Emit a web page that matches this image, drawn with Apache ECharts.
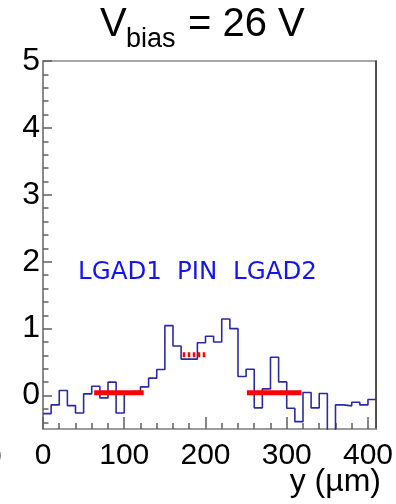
<!DOCTYPE html>
<html><head><meta charset="utf-8">
<script src="https://cdn.jsdelivr.net/npm/echarts@6/dist/echarts.min.js"></script>
<style>html,body{margin:0;padding:0;background:#fff;overflow:hidden}#c{width:396px;height:504px}</style>
</head><body><div id="c"></div>
<script>
// ---- data ----
const binLowEdges = [0,10,20,30,40,50,60,70,80,90,100,110,120,130,140,150,160,170,180,190,200,210,220,230,240,250,260,270,280,290,300,310,320,330,340,350,360,370,380,390,400];
const lastBinHighEdge = 410;
const binValues = [-0.27,-0.14,0.075,-0.15,-0.26,0.025,0.14,-0.035,0.2,-0.26,0.03,0.06,0.13,0.26,0.39,1.045,0.74,0.545,0.545,0.79,0.886,0.80,1.144,1.0,0.284,0.393,-0.184,0.1,0.572,0.204,-0.19,-0.39,0.045,-0.184,0.03,-0.7,-0.14,-0.154,-0.1,-0.14,-0.06];
const lgad1Range = [63,124], lgad1Mean = 0.04;
const pinRange = [172,201], pinMean = 0.61;
const lgad2Range = [251,318], lgad2Mean = 0.04;
const xMajorTicks = [0,100,200,300,400];
const xMinorTicks = [20,40,60,80,120,140,160,180,220,240,260,280,320,340,360,380];
const yMajorTicks = [0,1,2,3,4,5];
const yMinorTicks = [-0.4,-0.2,0.2,0.4,0.6,0.8,1.2,1.4,1.6,1.8,2.2,2.4,2.6,2.8,3.2,3.4,3.6,3.8,4.2,4.4,4.6,4.8];
const xRange = [0, 410], yRange = [-0.5, 5];
const titleMain = 'V', titleSub = 'bias', titleRest = '= 26 V';
const xTitle = 'y (µm)';
const regionLabels = ['LGAD1', 'PIN', 'LGAD2'];

// ---- chart ----
const chart = echarts.init(document.getElementById('c'), null, {renderer: 'canvas'});
const FONT = '"Liberation Sans", Arial, Helvetica, sans-serif';
const LFONT = '24.5px "DejaVu Sans", sans-serif';
const axisGray = '#808080';

const histData = binLowEdges.map((x, i) => [x, binValues[i]]);
histData.push([lastBinHighEdge, binValues[binValues.length - 1]]);

const bar = (r, m) => [[r[0], m], [r[1], m]];

const option = {
  animation: false,
  grid: {left: 43, right: 14, top: 61, bottom: 75, show: true, borderColor: '#8a8a8a', borderWidth: 1.5, backgroundColor: 'transparent'},
  xAxis: [
    {type: 'value', min: xRange[0], max: xRange[1], position: 'bottom',
     axisLine: {show: true, onZero: false, lineStyle: {color: '#9a9a9a', width: 1.5}},
     axisTick: {show: true, inside: true, length: 12, customValues: xMajorTicks, lineStyle: {color: '#606060', width: 1.5}},
     axisLabel: {show: true, customValues: xMajorTicks, fontSize: 30, color: '#000', fontFamily: FONT, margin: 12},
     splitLine: {show: false}},
    {type: 'value', min: xRange[0], max: xRange[1], position: 'bottom',
     axisLine: {show: false, onZero: false},
     axisTick: {show: true, inside: true, length: 6, customValues: xMinorTicks, lineStyle: {color: '#606060', width: 1.5}},
     axisLabel: {show: false}, splitLine: {show: false}}
  ],
  yAxis: [
    {type: 'value', min: yRange[0], max: yRange[1], position: 'left',
     axisLine: {show: true, onZero: false, lineStyle: {color: axisGray, width: 1.5}},
     axisTick: {show: true, inside: true, length: 9, customValues: yMajorTicks, lineStyle: {color: '#606060', width: 1.5}},
     axisLabel: {show: true, customValues: yMajorTicks, fontSize: 32, color: '#000', fontFamily: FONT, margin: 3},
     splitLine: {show: false}},
    {type: 'value', min: yRange[0], max: yRange[1], position: 'left',
     axisLine: {show: false, onZero: false},
     axisTick: {show: true, inside: true, length: 5.5, customValues: yMinorTicks, lineStyle: {color: '#606060', width: 1.5}},
     axisLabel: {show: false}, splitLine: {show: false}},
    {type: 'value', min: yRange[0], max: yRange[1], position: 'right',
     axisLine: {show: true, onZero: false, lineStyle: {color: '#333', width: 1.5}},
     axisTick: {show: false}, axisLabel: {show: false}, splitLine: {show: false}}
  ],
  series: [
    {type: 'line', step: 'end', data: histData, symbol: 'none', clip: true, z: 3,
     lineStyle: {color: '#2a2aa6', width: 1.6}},
    {type: 'line', data: bar(lgad1Range, lgad1Mean), symbol: 'none', z: 5,
     lineStyle: {color: '#ff0000', width: 5, cap: 'butt'}},
    {type: 'line', data: bar(pinRange, pinMean), symbol: 'none', z: 5,
     lineStyle: {color: '#ff0000', width: 5, cap: 'butt', type: [2.5, 2.5]}},
    {type: 'line', data: bar(lgad2Range, lgad2Mean), symbol: 'none', z: 5,
     lineStyle: {color: '#ff0000', width: 5, cap: 'butt'}}
  ],
  graphic: [
    {type: 'text', left: 100, top: 5, style: {text: titleMain, font: '40px ' + FONT, fill: '#000'}},
    {type: 'text', left: 126, top: 26, style: {text: titleSub, font: '27px ' + FONT, fill: '#000'}},
    {type: 'text', left: 188, top: 5, style: {text: titleRest, font: '40px ' + FONT, fill: '#000'}},
    {type: 'text', left: 78, top: 260, style: {text: regionLabels[0], font: LFONT, fill: '#1414f0'}},
    {type: 'text', left: 177, top: 260, style: {text: regionLabels[1], font: LFONT, fill: '#1414f0'}},
    {type: 'text', left: 233, top: 260, style: {text: regionLabels[2], font: LFONT, fill: '#1414f0'}},
    {type: 'text', right: 15, top: 466, style: {text: xTitle, font: '32px ' + FONT, fill: '#000'}},
    {type: 'text', left: -15, top: 443, style: {text: '0', font: '30px ' + FONT, fill: '#000'}}
  ]
};
chart.setOption(option);
</script></body></html>
